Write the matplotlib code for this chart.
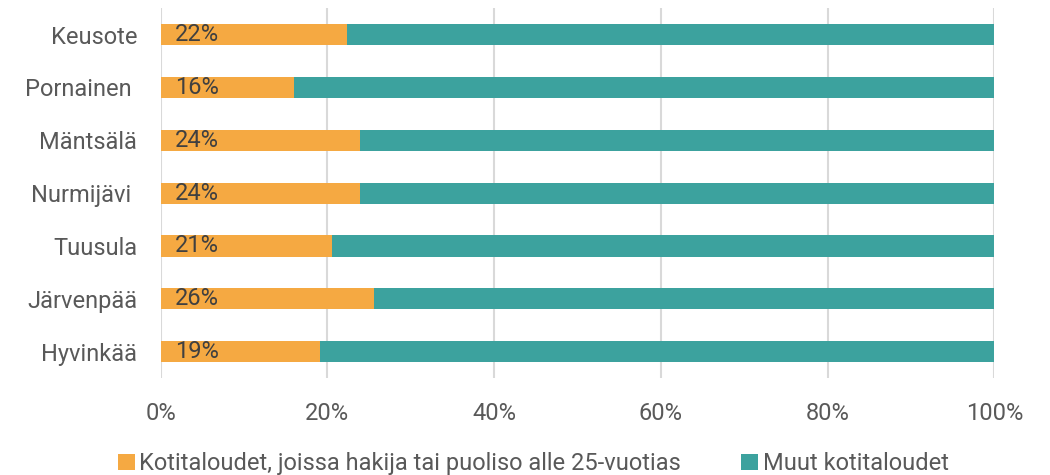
import matplotlib
matplotlib.use("Agg")
import matplotlib.pyplot as plt
from matplotlib.ticker import FuncFormatter

plt.rcParams['font.family'] = ['Roboto', 'DejaVu Sans']

# data, top to bottom as in the chart
regions = ["Keusote", "Pornainen ", "Mäntsälä", "Nurmijävi ", "Tuusula", "Järvenpää", "Hyvinkää"]
young = [22.4, 16.0, 23.9, 23.9, 20.6, 25.6, 19.1]
other = [100 - v for v in young]
labels = ["Kotitaloudet, joissa hakija tai puoliso alle 25-vuotias", "Muut kotitaloudet"]

orange = "#F5A942"
teal = "#3CA29E"

fig = plt.figure(figsize=(10.5, 4.75), dpi=100)
ax = fig.add_axes([0.153, 0.204, 0.794, 0.779])

ypos = list(range(len(regions)))[::-1]
ax.barh(ypos, young, height=0.4, color=orange, label=labels[0], zorder=3)
ax.barh(ypos, other, left=young, height=0.4, color=teal, label=labels[1], zorder=3)

for y, v in zip(ypos, young):
    ax.text(1.7, y, f"{v:.0f}%", ha="left", va="center", fontsize=17, color="#404040", zorder=4)

ax.set_xlim(0, 100)
ax.set_ylim(-0.5, 6.5)
ax.set_xticks([0, 20, 40, 60, 80, 100])
ax.xaxis.set_major_formatter(FuncFormatter(lambda x, p: f"{x:.0f}%"))
ax.set_yticks(ypos)
ax.set_yticklabels(regions)
ax.tick_params(axis="both", length=0, labelsize=17, colors="#595959")
ax.tick_params(axis="x", pad=17)
ax.tick_params(axis="y", pad=17)
ax.grid(axis="x", color="#d9d9d9", linewidth=1.5, zorder=0)
for s in ax.spines.values():
    s.set_visible(False)

fig.legend(loc="lower center", bbox_to_anchor=(0.508, -0.045), ncol=2, frameon=False,
           fontsize=17, handlelength=0.7, handleheight=0.7, handletextpad=0.2,
           columnspacing=2.55, labelcolor="#595959")

fig.savefig("out.png", dpi=100)
